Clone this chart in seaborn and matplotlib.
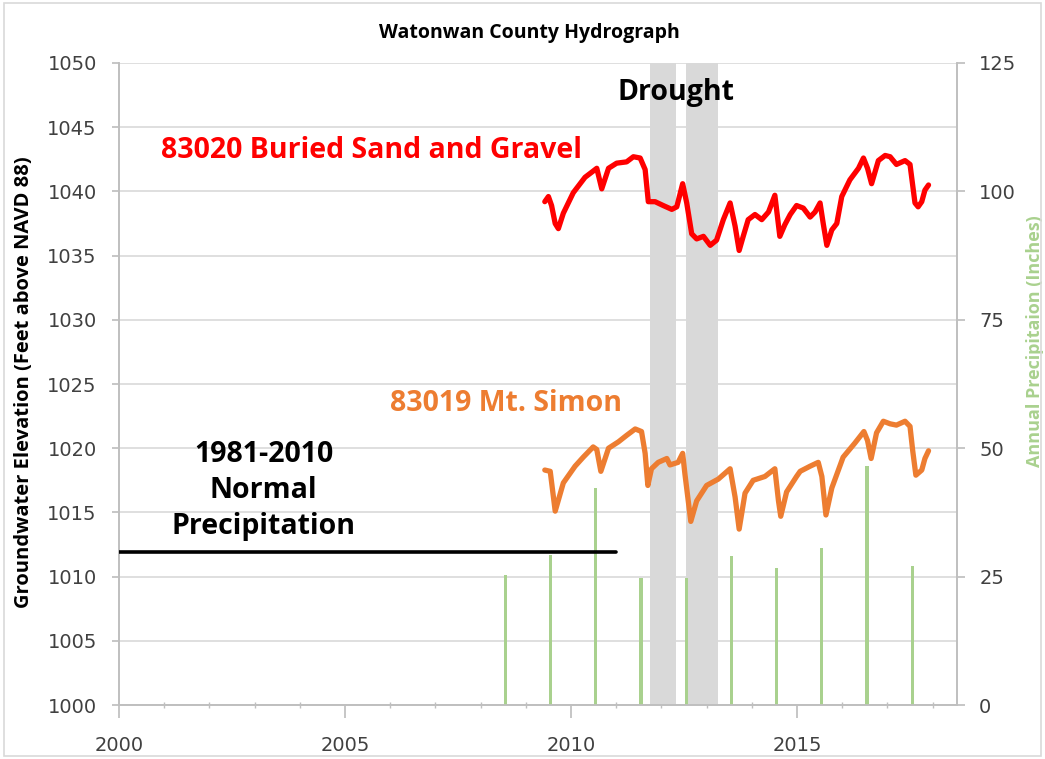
import matplotlib
matplotlib.use("Agg")
import matplotlib.pyplot as plt
import seaborn as sns
import pandas as pd
from matplotlib.patches import Rectangle

# Well 83020 - buried sand and gravel aquifer (decimal year, feet above NAVD 88)
sand_gravel_year = [2009.42, 2009.50, 2009.57, 2009.65, 2009.72, 2009.83, 2010.05, 2010.31,
                    2010.46, 2010.57, 2010.68, 2010.83, 2011.01, 2011.23, 2011.38, 2011.53,
                    2011.64, 2011.71, 2011.86, 2012.04, 2012.23, 2012.34, 2012.47, 2012.56,
                    2012.67, 2012.78, 2012.93, 2013.08, 2013.22, 2013.37, 2013.52, 2013.63,
                    2013.72, 2013.81, 2013.92, 2014.07, 2014.22, 2014.37, 2014.51, 2014.62,
                    2014.73, 2014.85, 2014.99, 2015.14, 2015.29, 2015.40, 2015.51, 2015.58,
                    2015.66, 2015.77, 2015.88, 2015.99, 2016.17, 2016.36, 2016.47, 2016.56,
                    2016.65, 2016.80, 2016.95, 2017.06, 2017.20, 2017.39, 2017.50, 2017.61,
                    2017.68, 2017.76, 2017.83, 2017.91]
sand_gravel_elev = [1039.2, 1039.6, 1038.9, 1037.5, 1037.1, 1038.3, 1039.9, 1041.1,
                    1041.5, 1041.8, 1040.2, 1041.8, 1042.2, 1042.3, 1042.7, 1042.6,
                    1041.7, 1039.2, 1039.2, 1038.9, 1038.6, 1038.8, 1040.6, 1039.1,
                    1036.7, 1036.3, 1036.5, 1035.8, 1036.2, 1037.8, 1039.1, 1037.3,
                    1035.4, 1036.5, 1037.8, 1038.2, 1037.8, 1038.4, 1039.7, 1036.5,
                    1037.4, 1038.2, 1038.9, 1038.7, 1038.0, 1038.4, 1039.1, 1037.5,
                    1035.8, 1037.0, 1037.5, 1039.6, 1040.9, 1041.8, 1042.6, 1041.8,
                    1040.6, 1042.4, 1042.8, 1042.7, 1042.1, 1042.4, 1042.1, 1039.1,
                    1038.8, 1039.2, 1040.1, 1040.5]

# Well 83019 - Mt. Simon aquifer
mt_simon_year = [2009.42, 2009.54, 2009.65, 2009.83, 2010.09, 2010.27, 2010.49, 2010.57,
                 2010.66, 2010.83, 2011.05, 2011.23, 2011.42, 2011.56, 2011.64, 2011.70,
                 2011.78, 2011.93, 2012.12, 2012.19, 2012.37, 2012.47, 2012.52, 2012.65,
                 2012.78, 2013.00, 2013.26, 2013.52, 2013.63, 2013.72, 2013.85, 2014.03,
                 2014.29, 2014.51, 2014.59, 2014.64, 2014.77, 2014.99, 2015.07, 2015.29,
                 2015.47, 2015.55, 2015.64, 2015.77, 2016.02, 2016.28, 2016.48, 2016.56,
                 2016.64, 2016.76, 2016.91, 2017.06, 2017.20, 2017.39, 2017.50, 2017.56,
                 2017.63, 2017.76, 2017.83, 2017.91]
mt_simon_elev = [1018.3, 1018.2, 1015.1, 1017.3, 1018.6, 1019.3, 1020.1, 1019.9,
                 1018.2, 1020.0, 1020.5, 1021.0, 1021.5, 1021.3, 1019.6, 1017.1,
                 1018.4, 1018.9, 1019.2, 1018.7, 1018.9, 1019.6, 1018.0, 1014.3,
                 1015.9, 1017.1, 1017.6, 1018.4, 1016.2, 1013.7, 1016.5, 1017.5,
                 1017.8, 1018.4, 1015.9, 1014.7, 1016.6, 1017.8, 1018.2, 1018.6,
                 1018.9, 1017.8, 1014.8, 1016.9, 1019.3, 1020.4, 1021.3, 1020.6,
                 1019.2, 1021.2, 1022.1, 1021.9, 1021.8, 1022.1, 1021.7, 1019.8,
                 1017.9, 1018.3, 1019.2, 1019.8]

# Annual precipitation (inches), plotted mid-year
precip_year = [2008.55, 2009.55, 2010.55, 2011.55, 2012.55, 2013.55, 2014.55, 2015.55,
               2016.55, 2017.55]
precip_inches = [25.4, 29.2, 42.2, 24.7, 24.8, 29.1, 26.7, 30.5, 46.5, 27.1]

# 1981-2010 normal annual precipitation (inches)
normal_precip = 29.7
normal_span = [2000.0, 2011.0]

# Drought periods
drought_periods = [(2011.75, 2012.32), (2012.54, 2013.25)]

elev_ticks = list(range(1000, 1051, 5))
precip_ticks = [0, 25, 50, 75, 100, 125]
year_ticks = [2000, 2005, 2010, 2015]

RED = "#ff0000"
ORANGE = "#ed7d31"
GREEN = "#a9d18e"
GREY_BAND = "#d9d9d9"
TEXT = "#404040"
TICK_FONT = "DejaVu Sans"

sns.set_theme(style="white")
plt.rcParams["font.family"] = ["Open Sans", "DejaVu Sans"]

fig = plt.figure(figsize=(10.45, 7.59), dpi=100)
ax = fig.add_axes([0.1139, 0.0711, 0.8019, 0.8459])
ax2 = ax.twinx()

# Drought shading
for start, end in drought_periods:
    ax.axvspan(start, end, color=GREY_BAND, lw=0, zorder=1)

sg = pd.DataFrame({"year": sand_gravel_year, "elev": sand_gravel_elev})
ms = pd.DataFrame({"year": mt_simon_year, "elev": mt_simon_elev})
sns.lineplot(data=sg, x="year", y="elev", ax=ax, color=RED, lw=3.8, zorder=3)
sns.lineplot(data=ms, x="year", y="elev", ax=ax, color=ORANGE, lw=3.8, zorder=3)

ax.set_xlim(2000, 2018.54)
ax.set_ylim(1000, 1050)
ax.set_yticks(elev_ticks)
ax.set_xticks(year_ticks)
ax.set_xticks(range(2000, 2019), minor=True)
ax.grid(axis="y", color="#d9d9d9", lw=1.2)
ax.set_axisbelow(True)
ax.set_xlabel("")
ax.set_ylabel("Groundwater Elevation (Feet above NAVD 88)", fontsize=14.5,
              fontweight="bold", color="black")
ax.yaxis.set_label_coords(-0.102, 0.503)
ax.tick_params(axis="y", labelsize=14, labelcolor=TEXT, length=5, color="#bfbfbf",
               direction="out", left=True, pad=11)
ax.tick_params(axis="x", which="major", labelsize=14, labelcolor=TEXT, length=9,
               color="#bfbfbf", direction="out", bottom=True, pad=13)
ax.tick_params(axis="x", which="minor", length=5, color="#bfbfbf", direction="inout",
               bottom=True)
for lab in ax.get_xticklabels() + ax.get_yticklabels():
    lab.set_family(TICK_FONT)

# Precipitation on the secondary axis
ax2.bar(precip_year, precip_inches, width=0.07, color=GREEN, lw=0, zorder=2)
ax2.plot(normal_span, [normal_precip, normal_precip], color="black", lw=2.6, zorder=4)
ax2.set_ylim(0, 125)
ax2.set_yticks(precip_ticks)
ax2.grid(False)
ax2.set_ylabel("Annual Precipitaion (Inches)", fontsize=13, fontweight="bold",
               color=GREEN)
ax2.yaxis.set_label_coords(1.082, 0.567)
ax2.tick_params(axis="y", labelsize=14, labelcolor=TEXT, length=6, color="#bfbfbf",
                direction="out", right=True, pad=10)
for lab in ax2.get_yticklabels():
    lab.set_family(TICK_FONT)

for a in (ax, ax2):
    a.spines["top"].set_visible(False)
    for side in ("left", "right", "bottom"):
        a.spines[side].set_color("#bfbfbf")
        a.spines[side].set_linewidth(1.2)

# Annotations
ax.text(2012.32, 1047.7, "Drought", fontsize=20.5, fontweight="bold", color="black",
        ha="center", va="center", zorder=5)
ax.text(2005.59, 1043.2, "83020 Buried Sand and Gravel", fontsize=20.5, fontweight="bold",
        color=RED, ha="center", va="center", zorder=5)
ax.text(2008.57, 1023.5, "83019 Mt. Simon", fontsize=20.5, fontweight="bold",
        color=ORANGE, ha="center", va="center", zorder=5)
ax.text(2003.2, 1016.7, "1981-2010\nNormal\nPrecipitation", fontsize=20.5,
        fontweight="bold", color="black", ha="center", va="center",
        linespacing=1.3, zorder=5)

fig.text(0.507, 0.9565, "Watonwan County Hydrograph", fontsize=14, fontweight="bold",
         color="black", ha="center", va="center")

# Chart-area border
fig.add_artist(Rectangle((0.004, 0.004), 0.992, 0.992, transform=fig.transFigure,
                         fill=False, edgecolor="#d9d9d9", lw=1.2))

fig.savefig("out.png", dpi=100)
